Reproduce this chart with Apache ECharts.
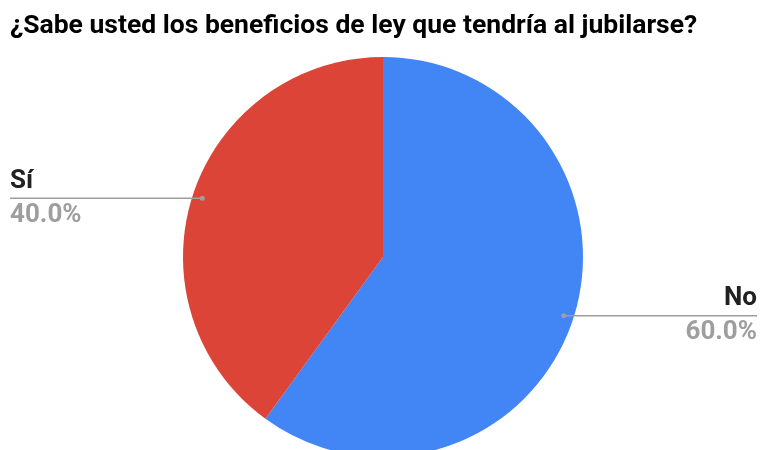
<!DOCTYPE html>
<html>
<head>
<meta charset="utf-8">
<script src="https://cdn.jsdelivr.net/npm/echarts@6/dist/echarts.min.js"></script>
<style>
  html, body { margin: 0; padding: 0; background: #ffffff; }
  #chart { width: 761px; height: 450px; }
</style>
</head>
<body>
<div id="chart"></div>
<script>
// Survey answers and their counts
const categories = ['No', 'Sí'];
const values = [60, 40];
const sliceColors = ['#4285f4', '#db4437'];
const chartTitle = '¿Sabe usted los beneficios de ley que tendría al jubilarse?';

// Layout of the pie (pixels)
const CX = 383, CY = 257, R = 200;
const DOT_R = 190;          // where the leader line starts, inside the slice
const LEFT_X = 10, RIGHT_X = 757;
const GUIDE_COLOR = '#9e9e9e';

const total = values.reduce((a, b) => a + b, 0);
// middle of each slice, in data units along the angle axis
const midValues = [];
let acc = 0;
values.forEach(v => { midValues.push(acc + v / 2); acc += v; });
// same middle as an angle, clockwise from 12 o'clock
const midAngle = i => (midValues[i] / total) * Math.PI * 2;
const anchorPoint = i => [CX + DOT_R * Math.sin(midAngle(i)), CY - DOT_R * Math.cos(midAngle(i))];

const chart = echarts.init(document.getElementById('chart'), null, { renderer: 'canvas' });

chart.setOption({
  backgroundColor: '#ffffff',
  animation: false,
  textStyle: { fontFamily: 'Roboto' },
  title: {
    text: chartTitle,
    left: 5,
    top: 8,
    textStyle: { fontFamily: 'Roboto', fontSize: 26.5, fontWeight: 'bold', color: '#000000' }
  },
  polar: { center: [CX, CY], radius: R },
  angleAxis: { type: 'value', min: 0, max: total, startAngle: 90, clockwise: true, show: false },
  radiusAxis: { type: 'value', min: 0, max: R, show: false },
  series: [
    {
      type: 'pie',
      center: [CX, CY],
      radius: [0, R],
      startAngle: 90,
      clockwise: true,
      data: categories.map((c, i) => ({ name: c, value: values[i], itemStyle: { color: sliceColors[i] } })),
      label: {
        show: true,
        position: 'outside',
        formatter: p => '{n|' + p.name + '}\n{v|' + p.percent.toFixed(1) + '%}',
        rich: {
          n: { fontFamily: 'Roboto', fontSize: 26, fontWeight: 'bold', color: '#212121', lineHeight: 34 },
          v: { fontFamily: 'Roboto', fontSize: 26, fontWeight: 'bold', color: GUIDE_COLOR, lineHeight: 34 }
        }
      },
      labelLine: { show: false },
      labelLayout: params => {
        const [ax, ay] = anchorPoint(params.dataIndex);
        const left = ax < CX;
        return {
          x: left ? LEFT_X : RIGHT_X,
          y: ay,
          align: left ? 'left' : 'right',
          verticalAlign: 'middle'
        };
      },
      emphasis: { disabled: true },
      z: 2
    },
    {
      // leader lines: a dot inside each slice and a horizontal rule out to the label
      type: 'custom',
      coordinateSystem: 'polar',
      silent: true,
      z: 5,
      data: midValues.map(m => [DOT_R, m]),
      renderItem: (params, api) => {
        const p = api.coord([api.value(0), api.value(1)]);
        const endX = p[0] < CX ? LEFT_X : RIGHT_X;
        return {
          type: 'group',
          children: [
            {
              type: 'line',
              shape: { x1: p[0], y1: p[1], x2: endX, y2: p[1] },
              style: { stroke: GUIDE_COLOR, lineWidth: 1.5 }
            },
            {
              type: 'circle',
              shape: { cx: p[0], cy: p[1], r: 2.5 },
              style: { fill: GUIDE_COLOR }
            }
          ]
        };
      }
    }
  ]
});
</script>
</body>
</html>
